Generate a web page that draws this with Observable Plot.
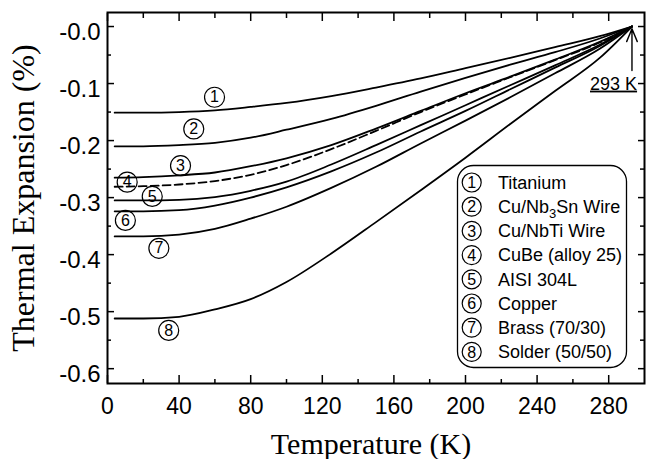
<!DOCTYPE html>
<html><head><meta charset="utf-8">
<script src="https://cdn.jsdelivr.net/npm/d3@7"></script>
<script src="https://cdn.jsdelivr.net/npm/@observablehq/plot@0.6"></script>
<style>body{margin:0;background:#fff} svg{display:block}</style>
</head><body><div id="chart"></div>
<script>
// Temperature grid (K)
const temps = [4, 20, 40, 60, 80, 100, 125, 150, 175, 200, 225, 250, 275, 293];
// Thermal expansion relative to 293 K (%)
const titanium = [-0.151, -0.151, -0.150, -0.147, -0.141, -0.134, -0.122, -0.107, -0.091, -0.073, -0.055, -0.036, -0.017, 0];
const cuNb3Sn  = [-0.210, -0.210, -0.208, -0.204, -0.195, -0.181, -0.162, -0.139, -0.114, -0.090, -0.067, -0.045, -0.021, 0];
const cuNbTi   = [-0.265, -0.264, -0.261, -0.256, -0.245, -0.231, -0.208, -0.179, -0.148, -0.117, -0.088, -0.058, -0.027, 0];
const cuBe     = [-0.281, -0.280, -0.277, -0.271, -0.260, -0.243, -0.215, -0.183, -0.150, -0.119, -0.089, -0.059, -0.028, 0];
const aisi304L = [-0.305, -0.305, -0.304, -0.299, -0.288, -0.272, -0.242, -0.208, -0.173, -0.138, -0.103, -0.068, -0.032, 0];
const copper   = [-0.324, -0.324, -0.322, -0.314, -0.300, -0.282, -0.254, -0.221, -0.184, -0.148, -0.110, -0.072, -0.034, 0];
const brass    = [-0.368, -0.368, -0.365, -0.355, -0.337, -0.316, -0.283, -0.246, -0.205, -0.165, -0.124, -0.082, -0.039, 0];
const solder   = [-0.512, -0.512, -0.509, -0.496, -0.478, -0.448, -0.398, -0.343, -0.287, -0.230, -0.171, -0.113, -0.055, 0];

const materials = ["Titanium", "Cu/Nb3Sn Wire", "Cu/NbTi Wire", "CuBe (alloy 25)", "AISI 304L", "Copper", "Brass (70/30)", "Solder (50/50)"];
const seriesValues = [titanium, cuNb3Sn, cuNbTi, cuBe, aisi304L, copper, brass, solder];
const dashedSeries = ["CuBe (alloy 25)"];

// Numbered circle labels placed next to the curves (T in K, value in %)
const labelNums = [1, 2, 3, 4, 5, 6, 7, 8];
const labelT    = [59.8, 48.2, 40.8, 11, 25, 10, 28.7, 34.2];
const labelV    = [-0.124, -0.1795, -0.244, -0.273, -0.298, -0.340, -0.389, -0.533];

// Reference temperature annotation
const refT = 293;
const refArrowFrom = -0.077, refArrowTo = -0.004;
const refLabel = "293 K", refLabelT = 282.7, refLabelV = -0.1005;

const xMajorTicks = [0, 40, 80, 120, 160, 200, 240, 280];
const xMinorTicks = [20, 60, 100, 140, 180, 220, 260];
const yMajorTicks = [0, -0.1, -0.2, -0.3, -0.4, -0.5, -0.6];
const yMinorTicks = [-0.05, -0.15, -0.25, -0.35, -0.45, -0.55];

const rows = [];
materials.forEach((m, i) => temps.forEach((t, j) => rows.push({material: m, T: t, v: seriesValues[i][j]})));
const labels = labelNums.map((n, i) => ({n, T: labelT[i], v: labelV[i]}));

const sans = "Liberation Sans, Arial, Helvetica, sans-serif";
const serif = "Liberation Serif, Times New Roman, serif";
const tickFmt = d => (d === 0 ? "-0.0" : d.toFixed(1));

const chart = Plot.plot({
  width: 648,
  height: 459,
  marginLeft: 107,
  marginRight: 4,
  marginTop: 12,
  marginBottom: 76,
  style: {background: "#fff", color: "#000"},
  x: {domain: [0, 300]},
  y: {domain: [-0.626, 0.0246]},
  marks: [
    // tick labels
    Plot.axisX(xMajorTicks, {anchor: "bottom", tickSize: 0, tickPadding: 14, fontSize: 23, fontFamily: sans, label: null}),
    Plot.axisY(yMajorTicks, {anchor: "left", tickSize: 0, tickPadding: 7, dy: 6, fontSize: 24, fontFamily: sans, tickFormat: tickFmt, label: null}),
    // inward ticks on all sides
    Plot.axisX(xMajorTicks, {anchor: "bottom", tickSize: 8, dy: -8, fill: "none", strokeWidth: 1.5, label: null}),
    Plot.axisX(xMinorTicks, {anchor: "bottom", tickSize: 4, dy: -4, fill: "none", strokeWidth: 1.5, label: null}),
    Plot.axisX(xMajorTicks, {anchor: "top", tickSize: 8, dy: 8, fill: "none", strokeWidth: 1.5, label: null}),
    Plot.axisX(xMinorTicks, {anchor: "top", tickSize: 5, dy: 5, fill: "none", strokeWidth: 1.5, label: null}),
    Plot.axisY(yMajorTicks, {anchor: "left", tickSize: 7, dx: 7, fill: "none", strokeWidth: 1.5, label: null}),
    Plot.axisY(yMinorTicks, {anchor: "left", tickSize: 4, dx: 4, fill: "none", strokeWidth: 1.5, label: null}),
    Plot.axisY(yMajorTicks, {anchor: "right", tickSize: 7, dx: -7, fill: "none", strokeWidth: 1.5, label: null}),
    Plot.axisY(yMinorTicks, {anchor: "right", tickSize: 5, dx: -5, fill: "none", strokeWidth: 1.5, label: null}),
    Plot.frame({strokeWidth: 2}),
    // curves
    Plot.line(rows.filter(d => !dashedSeries.includes(d.material)), {x: "T", y: "v", z: "material", stroke: "#000", strokeWidth: 1.8, curve: "monotone-x"}),
    Plot.line(rows.filter(d => dashedSeries.includes(d.material)), {x: "T", y: "v", z: "material", stroke: "#000", strokeWidth: 1.8, strokeDasharray: "8,4", curve: "monotone-x"}),
    // numbered labels
    Plot.dot(labels, {x: "T", y: "v", r: 10, stroke: "#000", strokeWidth: 1.2, fill: "none"}),
    Plot.text(labels, {x: "T", y: "v", text: d => String(d.n), fontSize: 16, fontFamily: sans, fill: "#000"}),
    // 293 K annotation
    Plot.arrow([{x1: refT, y1: refArrowFrom, x2: refT, y2: refArrowTo}], {x1: "x1", y1: "y1", x2: "x2", y2: "y2", headLength: 17, headAngle: 45, strokeWidth: 1.4, stroke: "#000"}),
    Plot.text([{T: refLabelT, v: refLabelV, t: refLabel}], {x: "T", y: "v", text: "t", fontSize: 18, fontFamily: sans, fill: "#000"}),
    // legend box
    Plot.frame({insetLeft: 350, insetTop: 153, insetRight: 18, insetBottom: 16, rx: 16, ry: 16, strokeWidth: 1.3}),
    // axis titles
    Plot.text(["Temperature (K)"], {frameAnchor: "bottom", text: d => d, textAnchor: "middle", lineAnchor: "bottom", dy: 70, dx: -5, fontSize: 30, fontFamily: serif, fill: "#000"}),
    Plot.text(["Thermal Expansion (%)"], {frameAnchor: "left", text: d => d, textAnchor: "middle", rotate: -90, lineAnchor: "bottom", dx: -74, dy: 0, fontSize: 32, fontFamily: serif, fill: "#000"})
  ]
});

document.getElementById("chart").appendChild(chart);
const svg = d3.select(chart);
svg.selectAll("text").filter(function() { return this.textContent === refLabel; }).attr("text-decoration", "underline");

// legend entries
const lg = svg.append("g").attr("font-family", sans).attr("fill", "#000");
materials.forEach((m, i) => {
  const y = 182.5 + i * 24.2;
  lg.append("circle").attr("cx", 471.7).attr("cy", y).attr("r", 9.5).attr("fill", "none").attr("stroke", "#000").attr("stroke-width", 1.2);
  lg.append("text").attr("x", 471.7).attr("y", y).attr("dy", "0.35em").attr("text-anchor", "middle").attr("font-size", 16).text(i + 1);
  const t = lg.append("text").attr("x", 498).attr("y", y).attr("dy", "0.35em").attr("text-anchor", "start").attr("font-size", 18);
  const parts = m.split(/(?<=Nb)(3)(?=Sn)/);
  if (parts.length === 3) {
    t.append("tspan").text(parts[0]);
    t.append("tspan").attr("font-size", 13).attr("dy", 5).text(parts[1]);
    t.append("tspan").attr("dy", -5).text(parts[2]);
  } else {
    t.text(m);
  }
});
</script>
</body></html>
